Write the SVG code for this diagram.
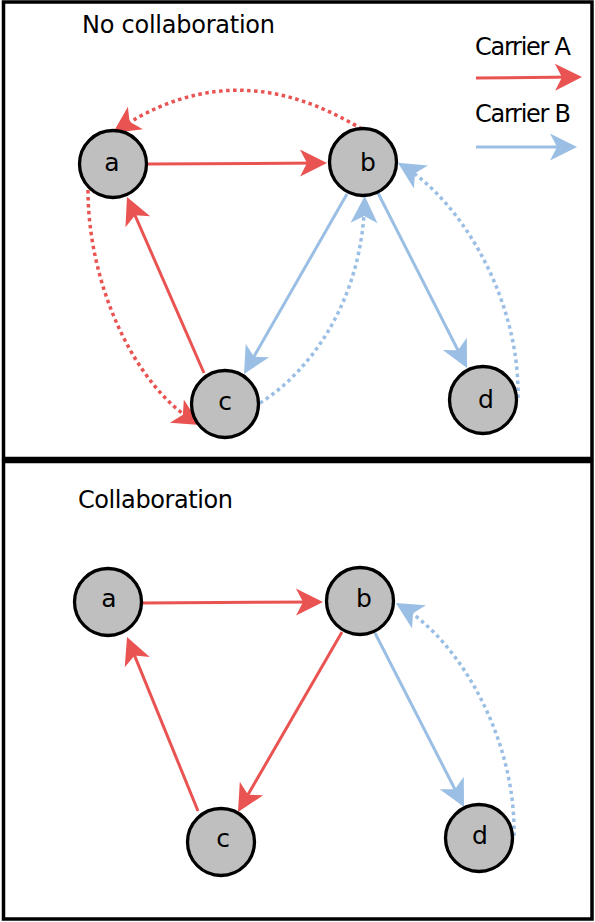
<svg xmlns="http://www.w3.org/2000/svg" width="595" height="922" viewBox="0 0 595 922">
<style>
.frame{fill:#fff;stroke:#000;stroke-width:3.5}
.node circle{fill:#bfbfbf;stroke:#000;stroke-width:3.3}
.node text,.lbl{font-family:"DejaVu Sans","Liberation Sans",sans-serif;fill:#000}
.node text{font-size:25px;text-anchor:middle}
.lbl{font-size:24px}
.r{stroke:#e95352;stroke-width:3;fill:none;marker-end:url(#ar)}
.b{stroke:#9bbfe4;stroke-width:3;fill:none;marker-end:url(#ab)}
.dot{stroke-dasharray:3.5 3.5;stroke-width:3.5}
</style>
<defs>
<marker id="ar" markerUnits="userSpaceOnUse" markerWidth="40" markerHeight="40" refX="0" refY="0" orient="auto" overflow="visible"><path d="M6,0 L-21,-13.5 L-14,0 L-21,13.5 Z" fill="#e95352"/></marker>
<marker id="ab" markerUnits="userSpaceOnUse" markerWidth="40" markerHeight="40" refX="0" refY="0" orient="auto" overflow="visible"><path d="M6,0 L-21,-13.5 L-14,0 L-21,13.5 Z" fill="#9bbfe4"/></marker>
</defs>
<rect class="frame" x="3.5" y="2" width="588.5" height="456.5"/>
<rect class="frame" x="3.5" y="461.5" width="588.5" height="457.5"/>
<text class="lbl" x="82" y="33" textLength="193">No collaboration</text>
<text class="lbl" x="78" y="508" textLength="155">Collaboration</text>
<g id="legend">
<text class="lbl" x="475" y="55" font-size="23" textLength="96">Carrier A</text>
<text class="lbl" x="475" y="122" font-size="23" textLength="96">Carrier B</text>
<path class="r" d="M476,78 L576,77"/>
<path class="b" d="M476,147 L571,147"/>
</g>
<g id="connectors">
<path class="r" d="M148,164 L321,163"/>
<path class="r" d="M204,373 L129.4,202.5"/>
<path class="r dot" d="M362,129 C320,105 230,55 117.9,129.6"/>
<path class="r dot" d="M88,190 C88,285 135,386 194.9,421.9"/>
<path class="b" d="M347,194 L247,368.8"/>
<path class="b dot" d="M260,403 C311,371 362,300 364.6,202"/>
<path class="b" d="M378,193 L464.3,362.7"/>
<path class="b dot" d="M518,398 C520,300 462,202 403,166"/>
<path class="r" d="M143,603 L317,602"/>
<path class="r" d="M198,811 L129.3,642.6"/>
<path class="r" d="M342,632 L241,806.8"/>
<path class="b" d="M375,633 L461.3,801.7"/>
<path class="b dot" d="M514,836 C516,740 461,642 401,606"/>
</g>
<g id="top-a" class="node"><circle cx="113" cy="164" r="33.5"/><text x="112" y="171">a</text></g>
<g id="top-b" class="node"><circle cx="363" cy="162" r="33.5"/><text x="368" y="171">b</text></g>
<g id="top-c" class="node"><circle cx="225" cy="404" r="33.5"/><text x="225" y="410">c</text></g>
<g id="top-d" class="node"><circle cx="483" cy="400" r="33.5"/><text x="486" y="408">d</text></g>
<g id="bot-a" class="node"><circle cx="108" cy="602" r="33.5"/><text x="109" y="607">a</text></g>
<g id="bot-b" class="node"><circle cx="360" cy="601" r="33.5"/><text x="364" y="607">b</text></g>
<g id="bot-c" class="node"><circle cx="221" cy="842" r="33.5"/><text x="223" y="847">c</text></g>
<g id="bot-d" class="node"><circle cx="479" cy="838" r="33.5"/><text x="480" y="844">d</text></g>
</svg>
